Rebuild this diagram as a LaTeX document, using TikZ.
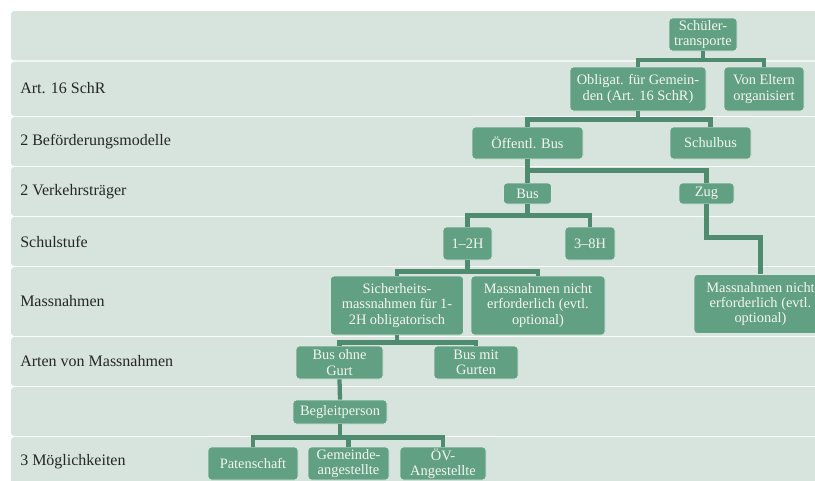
\documentclass[tikz,border=0pt]{standalone}
\usepackage{fontspec}
\setmainfont{Liberation Serif}
\usepackage{xcolor}
\usepackage{tikz}

\definecolor{bandfill}{RGB}{215,227,221}
\definecolor{boxfill}{RGB}{98,160,131}
\definecolor{linkcol}{RGB}{79,139,110}
\definecolor{boxtext}{RGB}{244,246,242}

\begin{document}
\begin{tikzpicture}[x=0.75pt,y=0.75pt,yscale=-1,xscale=1,
  band/.style={fill=bandfill, rounded corners=2.5pt},
  rowlabel/.style={anchor=west, inner sep=0.75pt, font=\fontsize{12}{14}\selectfont, text=black!85},
  box/.style={fill=boxfill, draw=white!75!boxfill, line width=0.6pt, rounded corners=2.5pt, text=boxtext, align=center, inner sep=0pt, font=\fontsize{10.8}{11.6}\selectfont},
  sz/.style 2 args={minimum width=#1*0.75pt, minimum height=#2*0.75pt},
  conn/.style={draw=linkcol, line width=3.2pt}]
\clip (0,0) rectangle (815,480);

%Shape: Rows
\fill[band] (11,11) rectangle (840,60.4);
\fill[band] (11,61.6) rectangle (840,115.9);
\fill[band] (11,117.1) rectangle (840,165.9);
\fill[band] (11,167.1) rectangle (840,215.9);
\fill[band] (11,217.1) rectangle (840,265.9);
\fill[band] (11,267.1) rectangle (840,335.9);
\fill[band] (11,337.1) rectangle (840,385.9);
\fill[band] (11,387.1) rectangle (840,435.9);
\fill[band] (11,437.1) rectangle (840,500);

% Text Node
\node[rowlabel] (lartikel) at (19,88.5) {Art. 16 SchR};
% Text Node
\node[rowlabel] (lmodell) at (19,141.5) {2 Beförderungsmodelle};
% Text Node
\node[rowlabel] (ltraeger) at (19,191.5) {2 Verkehrsträger};
% Text Node
\node[rowlabel] (lstufe) at (19,241.5) {Schulstufe};
% Text Node
\node[rowlabel] (lmass) at (19,301.5) {Massnahmen};
% Text Node
\node[rowlabel] (larten) at (19,361.5) {Arten von Massnahmen};
% Text Node
\node[rowlabel] (lmoegl) at (19,461.5) {3 Möglichkeiten};

%Shape: Boxes
\node[box, sz={68}{33}] (schueler) at (703,34.5) {Schüler-\\transporte};
\node[box, sz={136}{44}] (obligat) at (638,89) {Obligat. für Gemein-\\den (Art. 16 SchR)};
\node[box, sz={80}{44}] (eltern) at (764,89) {Von Eltern\\organisiert};
\node[box, sz={111}{32}] (oeffbus) at (527.5,143) {Öffentl. Bus};
\node[box, sz={81}{32}] (schulbus) at (710.5,143) {Schulbus};
\node[box, sz={48}{21}] (bus) at (527.5,193.5) {Bus};
\node[box, sz={55}{21}] (zug) at (706.5,193.5) {Zug};
\node[box, sz={49}{33}] (stufeA) at (467.5,243.5) {1–2H};
\node[box, sz={50}{33}] (stufeB) at (590,243.5) {3–8H};
\node[box, sz={133}{59}] (sicher) at (397,305.5) {Sicherheits-\\massnahmen für 1-\\2H obligatorisch};
\node[box, sz={134}{59}] (nichtbus) at (538,305.5) {Massnahmen nicht\\erforderlich (evtl.\\optional)};
\node[box, sz={133}{59}] (nichtzug) at (760.5,304) {Massnahmen nicht\\erforderlich (evtl.\\optional)};
\node[box, sz={87}{33}] (ohnegurt) at (339.5,362.5) {Bus ohne\\Gurt};
\node[box, sz={84}{33}] (mitgurt) at (476,362.5) {Bus mit\\Gurten};
\node[box, sz={94}{24}] (begleit) at (340,412) {Begleitperson};
\node[box, sz={90}{33}] (paten) at (253,463.5) {Patenschaft};
\node[box, sz={81}{33}] (gemeinde) at (348.5,463.5) {Gemeinde-\\angestellte};
\node[box, sz={86}{33}] (oev) at (443,463.5) {ÖV-\\Angestellte};

%Shape: Connectors
\draw[conn] (schueler.south) -- ++(0,8.5) -| (obligat.north);
\draw[conn] (schueler.south) -- ++(0,8.5) -| (eltern.north);
\draw[conn] (obligat.south) -- ++(0,8) -| (oeffbus.north);
\draw[conn] (obligat.south) -- ++(0,8) -| (schulbus.north);
\draw[conn] (oeffbus.south) -- ++(0,11) -| (bus.north);
\draw[conn] (oeffbus.south) -- ++(0,11) -| (zug.north);
\draw[conn] (bus.south) -- ++(0,11) -| (stufeA.north);
\draw[conn] (bus.south) -- ++(0,11) -| (stufeB.north);
\draw[conn] (zug.south) -- ++(0,33) -| (nichtzug.north);
\draw[conn] (stufeA.south) -- ++(0,11) -| (sicher.north);
\draw[conn] (stufeA.south) -- ++(0,11) -| (nichtbus.north);
\draw[conn] (sicher.south) -- ++(0,7) -| (ohnegurt.north);
\draw[conn] (sicher.south) -- ++(0,7) -| (mitgurt.north);
\draw[conn] (ohnegurt.south) -- (begleit.north);
\draw[conn] (begleit.south) -- ++(0,13) -| (paten.north);
\draw[conn] (begleit.south) -- ++(0,13) -| (gemeinde.north);
\draw[conn] (begleit.south) -- ++(0,13) -| (oev.north);
\end{tikzpicture}
\end{document}
